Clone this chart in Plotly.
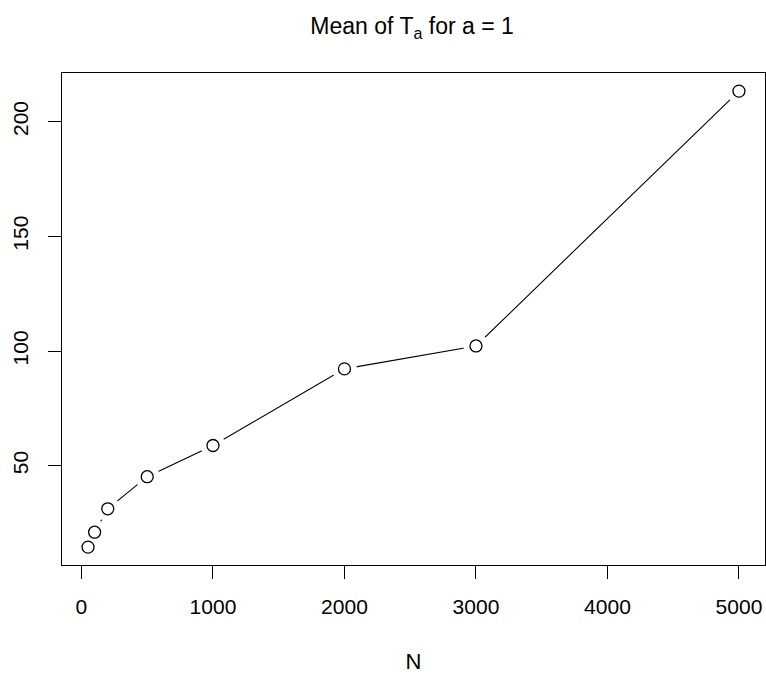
import plotly.graph_objects as go

N = [50, 100, 200, 500, 1000, 2000, 3000, 5000]
mean_T = [14.5, 21.0, 31.2, 45.2, 58.8, 92.2, 102.2, 213.3]
x_ticks = [0, 1000, 2000, 3000, 4000, 5000]
y_ticks = [50, 100, 150, 200]

FONT = "Liberation Sans, Arial, Helvetica, sans-serif"

fig = go.Figure()
# connecting line
fig.add_trace(go.Scatter(x=N, y=mean_T, mode="lines",
                         line=dict(color="black", width=1.1), hoverinfo="skip"))
# white discs to create gaps around the points (R type="b")
fig.add_trace(go.Scatter(x=N, y=mean_T, mode="markers",
                         marker=dict(symbol="circle", size=25, color="white",
                                     line=dict(width=0)), hoverinfo="skip"))
# open circle points
fig.add_trace(go.Scatter(x=N, y=mean_T, mode="markers",
                         marker=dict(symbol="circle-open", size=12, color="black",
                                     line=dict(width=1.3, color="black"))))

fig.update_layout(
    width=766, height=675,
    margin=dict(l=62, r=1, t=73, b=110),
    paper_bgcolor="white", plot_bgcolor="white",
    showlegend=False,
    font=dict(family=FONT, size=21, color="black"),
    title=dict(text="Mean of T<sub>a</sub> for a = 1", x=0.538, xanchor="center",
               y=1 - 26/675, yanchor="middle", font=dict(size=23, family=FONT)),
)
fig.update_xaxes(range=[-148, 5198], tickvals=x_ticks, ticktext=[str(v) for v in x_ticks],
                 showgrid=False, zeroline=False, showline=True, linecolor="black",
                 linewidth=1.2, mirror=True, ticks="outside", ticklen=13, tickwidth=1.2,
                 tickcolor="black", ticklabelstandoff=10,
                 title=dict(text="N", standoff=36, font=dict(size=22)))
fig.update_yaxes(range=[6.7, 221.2], tickvals=y_ticks, ticktext=[str(v) for v in y_ticks],
                 showgrid=False, zeroline=False, showline=True, linecolor="black",
                 linewidth=1.2, mirror=True, ticks="outside", ticklen=13, tickwidth=1.2,
                 tickcolor="black", tickangle=-90, ticklabelstandoff=12)

fig.write_html("out.html")
